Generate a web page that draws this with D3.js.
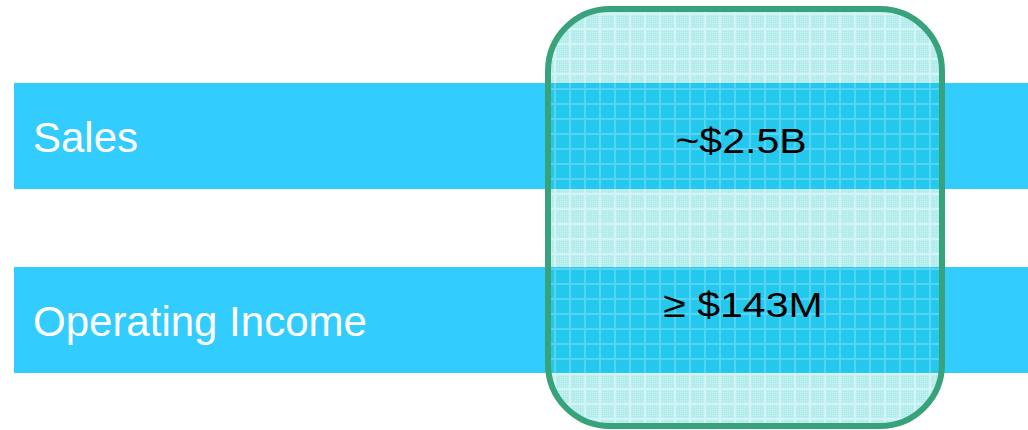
<!DOCTYPE html>
<html>
<head>
<meta charset="utf-8">
<script src="https://cdn.jsdelivr.net/npm/d3@7"></script>
<style>
  html, body { margin: 0; padding: 0; background: #ffffff; }
  svg { display: block; }
</style>
</head>
<body>
<script>
const categories = ["Sales", "Operating Income"];
const valueLabels = ["~$2.5B", "\u2265 $143M"];

const W = 1028, H = 430;
const svg = d3.select("body").append("svg").attr("width", W).attr("height", H);

const y = d3.scaleBand().domain(categories).range([83, 373]).paddingInner(0.424).paddingOuter(0);
const x = d3.scaleLinear().domain([0, 1]).range([14, 1028]);

const defs = svg.append("defs");
const pat = defs.append("pattern")
  .attr("id", "grid")
  .attr("patternUnits", "userSpaceOnUse")
  .attr("x", 1).attr("y", 0)
  .attr("width", 15).attr("height", 15);
pat.append("rect").attr("x", 0).attr("y", 0).attr("width", 15).attr("height", 15)
  .attr("fill", "rgb(0,191,191)").attr("fill-opacity", 0.22);
for (let i = 1; i < 13; i += 2) {
  pat.append("rect").attr("x", i).attr("y", 0).attr("width", 1).attr("height", 13)
    .attr("fill", "rgb(0,191,191)").attr("fill-opacity", 0.08);
  pat.append("rect").attr("x", 0).attr("y", i).attr("width", 13).attr("height", 1)
    .attr("fill", "rgb(0,191,191)").attr("fill-opacity", 0.08);
}
// grid lines
pat.append("rect").attr("x", 13).attr("y", 0).attr("width", 2).attr("height", 15)
  .attr("fill", "#ffffff").attr("fill-opacity", 0.2);
pat.append("rect").attr("x", 0).attr("y", 13).attr("width", 13).attr("height", 2)
  .attr("fill", "#ffffff").attr("fill-opacity", 0.2);

// bars
svg.selectAll("rect.bar").data(categories).enter().append("rect")
  .attr("class", "bar")
  .attr("x", x(0)).attr("y", d => y(d))
  .attr("width", x(1) - x(0)).attr("height", y.bandwidth())
  .attr("fill", "#33ccff");

// category labels
svg.selectAll("text.cat").data(categories).enter().append("text")
  .attr("class", "cat")
  .attr("x", 33)
  .attr("y", d => y(d) + y.bandwidth() / 2 + 16)
  .attr("fill", "#ffffff")
  .attr("font-family", "'Liberation Sans', Arial, sans-serif")
  .attr("font-size", 42)
  .text(d => d);

// highlight box
const boxX0 = 548, boxX1 = 942, boxY0 = 9, boxY1 = 426;
svg.append("rect")
  .attr("x", boxX0).attr("y", boxY0)
  .attr("width", boxX1 - boxX0).attr("height", boxY1 - boxY0)
  .attr("rx", 62).attr("ry", 62)
  .attr("fill", "url(#grid)")
  .attr("stroke", "#38a27a").attr("stroke-width", 6);

// value labels
const cx = 741;
svg.selectAll("text.val").data(categories).enter().append("text")
  .attr("class", "val")
  .attr("transform", (d, i) => `translate(${cx + (i ? 2 : 0)},${y(d) + y.bandwidth() / 2 + (i ? -3 : 17)}) scale(1.14,1)`)
  .attr("text-anchor", "middle")
  .attr("fill", "#000000")
  .attr("font-family", "'Liberation Sans', Arial, sans-serif")
  .attr("font-size", 36)
  .text((d, i) => valueLabels[i]);
</script>
</body>
</html>
